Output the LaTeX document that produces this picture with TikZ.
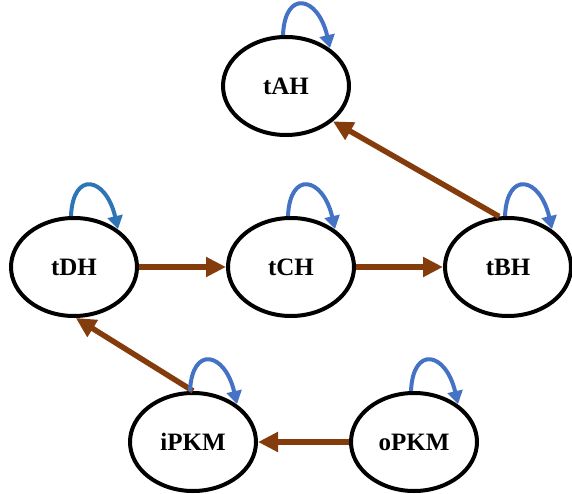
\documentclass[tikz,border=0pt]{standalone}
\usepackage{fontspec}
\setmainfont{Liberation Serif}
\usetikzlibrary{arrows.meta,shapes.geometric}
\definecolor{loopblue}{HTML}{4472C4}
\definecolor{loopdark}{HTML}{2E75B6}
\definecolor{edgebrown}{HTML}{843C0C}
\begin{document}
\begin{tikzpicture}[x=1pt,y=-1pt,
  state/.style={ellipse,draw=black,line width=4pt,minimum width=126pt,minimum height=98pt,inner sep=0pt,font=\fontsize{25}{28}\selectfont\bfseries},
  flow/.style={draw=edgebrown,line width=5.5pt,-{Triangle[length=20pt,width=19pt]}},
  selfloop/.style={line width=4pt,-{Triangle[length=13pt,width=15pt]}}]
\useasboundingbox (0,0) rectangle (572,494);
\node[state] (tAH) at (286,86) {tAH};
\node[state] (tDH) at (74,267) {tDH};
\node[state] (tCH) at (291,267) {tCH};
\node[state] (tBH) at (508,267) {tBH};
\node[state] (iPKM) at (193,442) {iPKM};
\node[state] (oPKM) at (414,442) {oPKM};
% edges
\draw[flow] (tDH.east) -- (tCH.west);
\draw[flow] (tCH.east) -- (tBH.west);
\draw[flow] (tBH.100) -- (tAH.-37);
\draw[flow] (iPKM.north) -- (tDH.-88);
\draw[flow] (oPKM.west) -- (iPKM.east);
% self loops
\foreach \n/\c in {tAH/loopblue,tDH/loopdark,tCH/loopblue,tBH/loopblue,iPKM/loopblue,oPKM/loopblue}{
  \draw[selfloop,draw=\c] ([xshift=-3pt]\n.north) .. controls +(2,-46) and +(-12,-52) .. ([xshift=44pt,yshift=-13pt]\n.north);
}
\end{tikzpicture}
\end{document}
